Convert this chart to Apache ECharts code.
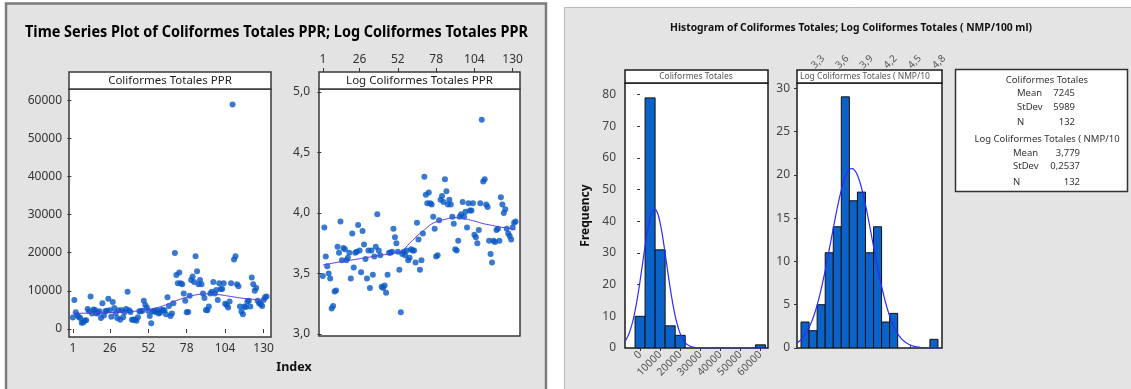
<!DOCTYPE html>
<html>
<head>
<meta charset="utf-8">
<script src="https://cdn.jsdelivr.net/npm/echarts@6.0.0/dist/echarts.min.js"></script>
<style>
  html, body { margin: 0; padding: 0; background: #ffffff; }
  #chart { width: 1131px; height: 389px; }
</style>
</head>
<body>
<div id="chart"></div>
<script>
// Total coliforms (NMP/100 ml), samples 1..132
const coliformes = [
  3020, 7590, 4370, 3630, 3160, 2880, 1620, 1700, 2240, 2290,
  5250, 4680, 8510, 4070, 5130, 5010, 4070, 4270, 4680, 2880,
  6760, 3550, 4680, 4790, 7940, 4900, 3240, 7080, 5500, 4170,
  2880, 4900, 2400, 4900, 3090, 4370, 5250, 9770, 4900, 4470,
  2450, 2400, 2510, 2190, 3090, 4680, 4680, 4790, 7410, 6310,
  5620, 4790, 3390, 1510, 4570, 4790, 4470, 4900, 4070, 4270,
  5010, 4900, 4900, 3890, 8320, 6030, 3390, 4070, 6760, 19950,
  14130, 12020, 14790, 12020, 11750, 9330, 7410, 4370, 4470, 8710,
  12880, 13800, 12300, 19050, 15140, 11750, 12880, 11750, 9330, 8130,
  5010, 4900, 5890, 9330, 9770, 12300, 9330, 10230, 7590, 12020,
  10470, 10470, 12020, 6610, 6310, 5620, 7240, 12020, 58900, 18200,
  19050, 11750, 11220, 5890, 4570, 3890, 5890, 5750, 7240, 7410,
  5890, 13490, 11750, 10000, 10720, 7410, 6760, 6460, 6030, 7590,
  8320, 8510
];
const coliformesLog = coliformes.map(v => Math.log10(v));

// LOWESS smoother read at these sample indices
const lowessIndex = [1, 10, 20, 30, 40, 50, 55, 60, 65, 70, 75, 80, 85, 90, 95, 100, 105, 110, 115, 120, 125, 132];
const lowessRaw = [4100, 4150, 4250, 4350, 4550, 5000, 5300, 5800, 6500, 7300, 8000, 8600, 9000, 9200, 9200, 9000, 8700, 8400, 8100, 7900, 7700, 7500];
const lowessLog = [3.57, 3.59, 3.61, 3.63, 3.65, 3.67, 3.69, 3.75, 3.81, 3.86, 3.91, 3.935, 3.95, 3.962, 3.958, 3.945, 3.93, 3.912, 3.90, 3.887, 3.877, 3.862];

// Axis ticks
const indexTicks = [1, 26, 52, 78, 104, 130];
const rawTicks = [0, 10000, 20000, 30000, 40000, 50000, 60000];
const logTicks = [3.0, 3.5, 4.0, 4.5, 5.0];
const rawFreqTicks = [0, 10, 20, 30, 40, 50, 60, 70, 80];
const logFreqTicks = [0, 5, 10, 15, 20, 25, 30];
const rawHistTicks = [0, 10000, 20000, 30000, 40000, 50000, 60000];
const logHistTicks = [3.3, 3.6, 3.9, 4.2, 4.5, 4.8];

// Histogram bins (centres) and counts
const rawBinWidth = 5000;
const rawBinCenters = [0, 5000, 10000, 15000, 20000, 25000, 30000, 35000, 40000, 45000, 50000, 55000, 60000];
const rawBinCounts = [10, 79, 31, 7, 4, 0, 0, 0, 0, 0, 0, 0, 1];
const logBinWidth = 0.1;
const logBinCenters = [3.2, 3.3, 3.4, 3.5, 3.6, 3.7, 3.8, 3.9, 4.0, 4.1, 4.2, 4.3, 4.4, 4.5, 4.6, 4.7, 4.8];
const logBinCounts = [3, 2, 5, 11, 14, 29, 17, 18, 11, 14, 3, 4, 0, 0, 0, 0, 1];

// Summary statistics
const statNames = ['Mean', 'StDev', 'N'];
const rawStats = [7245, 5989, 132];
const logStats = [3.779, 0.2537, 132];

const FONT = '"Noto Sans", "DejaVu Sans", sans-serif';
const comma = (v, d) => v.toFixed(d).replace('.', ',');
const plain = v => String(Math.round(v));

// Range of the four plotting areas
const idxMin = -1.6, idxMax = 135;
const rawMin = -2100, rawMax = 62950;
const logMin = 2.983, logMax = 5.025;
const hRawMin = -7500, hRawMax = 63750;
const hLogMin = 3.1, hLogMax = 4.9;

function normalCurve(mean, sd, n, width, lo, hi, steps) {
  const pts = [];
  const k = n * width / (sd * Math.sqrt(2 * Math.PI));
  for (let i = 0; i <= steps; i++) {
    const x = lo + (hi - lo) * i / steps;
    const z = (x - mean) / sd;
    pts.push([x, k * Math.exp(-0.5 * z * z)]);
  }
  return pts;
}

function binRenderer(width) {
  return function (params, api) {
    const c = api.value(0), n = api.value(1);
    if (!n) return null;
    const p0 = api.coord([c - width / 2, n]);
    const p1 = api.coord([c + width / 2, 0]);
    return {
      type: 'rect',
      shape: { x: p0[0], y: p0[1], width: p1[0] - p0[0], height: p1[1] - p0[1] },
      style: { fill: '#0b62c8', stroke: '#111111', lineWidth: 1 }
    };
  };
}

// text measured on a canvas so a line can be squeezed to a given span
const measureCtx = document.createElement('canvas').getContext('2d');
function fitScale(text, font, span) {
  measureCtx.font = font;
  const w = measureCtx.measureText(text).width;
  return w > 0 ? span / w : 1;
}

function label(text, x, y, font, fill, align, extra) {
  return Object.assign({
    type: 'text', x: x, y: y, z: 100,
    style: { text: text, font: font, fill: fill, textAlign: align || 'center', textVerticalAlign: 'middle' }
  }, extra || {});
}

const titleLeft = 'Time Series Plot of Coliformes Totales PPR; Log Coliformes Totales PPR';
const titleLeftFont = 'bold 16px ' + FONT;
const titleRight = 'Histogram of Coliformes Totales; Log Coliformes Totales ( NMP/100 ml)';
const titleRightFont = 'bold 11px ' + FONT;

const graphics = [
  { type: 'rect', z: -10, shape: { x: 6, y: 3.5, width: 540, height: 400 },
    style: { fill: '#e3e3e3', stroke: '#7c7c7c', lineWidth: 2.5 } },
  { type: 'rect', z: -10, shape: { x: 564.5, y: 7.5, width: 600, height: 400 },
    style: { fill: '#e4e4e4', stroke: '#b8b8b8', lineWidth: 1 } },
  // panel header strips
  { type: 'rect', z: 90, shape: { x: 69, y: 72, width: 202, height: 17 }, style: { fill: '#ffffff', stroke: '#3a3a3a', lineWidth: 1.5 } },
  { type: 'rect', z: 90, shape: { x: 319, y: 72, width: 201, height: 17 }, style: { fill: '#ffffff', stroke: '#3a3a3a', lineWidth: 1.5 } },
  { type: 'rect', z: 90, shape: { x: 625, y: 70, width: 143, height: 13 }, style: { fill: '#ffffff', stroke: '#1a1a1a', lineWidth: 1.5 } },
  { type: 'rect', z: 90, shape: { x: 797, y: 70, width: 145, height: 13 }, style: { fill: '#ffffff', stroke: '#1a1a1a', lineWidth: 1.5 } },
  label('Coliformes Totales PPR', 170, 80.5, '11.5px ' + FONT, '#222222'),
  label('Log Coliformes Totales PPR', 419.5, 80.5, '11.5px ' + FONT, '#222222'),
  label('Coliformes Totales', 696, 76.5, '8.5px ' + FONT, '#555555'),
  label('Log Coliformes Totales ( NMP/10', 800, 76.5, '8.5px ' + FONT, '#555555', 'left'),
  // titles
  label(titleLeft, 276.5, 32, titleLeftFont, '#000000', 'center',
        { scaleX: fitScale(titleLeft, titleLeftFont, 503) }),
  label(titleRight, 851, 28, titleRightFont, '#111111', 'center',
        { scaleX: fitScale(titleRight, titleRightFont, 362) }),
  label('Index', 294, 367, 'bold 12.5px ' + FONT, '#111111'),
  // statistics box
  { type: 'rect', z: 90, shape: { x: 955.5, y: 69.5, width: 172, height: 122 },
    style: { fill: '#ffffff', stroke: '#333333', lineWidth: 1.5 } },
  label('Coliformes Totales', 1047, 80, '9.5px ' + FONT, '#333333'),
  label('Log Coliformes Totales ( NMP/10', 1047, 139, '9.5px ' + FONT, '#333333')
];
const rawRows = [93, 107, 122];
const logRows = [153, 166, 182];
const rawText = [String(rawStats[0]), String(rawStats[1]), String(rawStats[2])];
const logText = [comma(logStats[0], 3), comma(logStats[1], 4), String(logStats[2])];
statNames.forEach((name, i) => {
  graphics.push(label(name, 1017, rawRows[i], '9.5px ' + FONT, '#333333', 'left'));
  graphics.push(label(rawText[i], 1075, rawRows[i], '9.5px ' + FONT, '#333333', 'right'));
  graphics.push(label(name, 1013, logRows[i], '9.5px ' + FONT, '#333333', 'left'));
  graphics.push(label(logText[i], 1080, logRows[i], '9.5px ' + FONT, '#333333', 'right'));
});

const tickStyle = { lineStyle: { color: '#333333', width: 1 } };
function valueAxis(extra) {
  return Object.assign({
    type: 'value',
    axisLine: { show: false },
    splitLine: { show: false },
    axisTick: Object.assign({ length: 4 }, tickStyle),
    axisLabel: { fontFamily: FONT, fontSize: 12, color: '#333333' }
  }, extra);
}

const option = {
  animation: false,
  backgroundColor: '#ffffff',
  graphic: { elements: graphics },
  grid: [
    { left: 69, top: 89, width: 202, height: 248, show: true, backgroundColor: '#ffffff', borderColor: '#3a3a3a', borderWidth: 1.5, containLabel: false, outerBoundsMode: 'none' },
    { left: 319, top: 89, width: 201, height: 247, show: true, backgroundColor: '#ffffff', borderColor: '#3a3a3a', borderWidth: 1.5, containLabel: false, outerBoundsMode: 'none' },
    { left: 625, top: 83, width: 143, height: 265, show: true, backgroundColor: '#ffffff', borderColor: '#1a1a1a', borderWidth: 1.5, containLabel: false, outerBoundsMode: 'none' },
    { left: 797, top: 83, width: 145, height: 265, show: true, backgroundColor: '#ffffff', borderColor: '#1a1a1a', borderWidth: 1.5, containLabel: false, outerBoundsMode: 'none' }
  ],
  xAxis: [
    valueAxis({ gridIndex: 0, min: idxMin, max: idxMax, position: 'bottom',
      axisTick: Object.assign({ length: 4, customValues: indexTicks }, tickStyle),
      axisLabel: { customValues: indexTicks, fontFamily: FONT, fontSize: 12, color: '#333333', margin: 6, formatter: plain } }),
    valueAxis({ gridIndex: 1, min: idxMin, max: idxMax, position: 'top', offset: 17,
      axisTick: Object.assign({ length: 4, customValues: indexTicks }, tickStyle),
      axisLabel: { customValues: indexTicks, fontFamily: FONT, fontSize: 12, color: '#333333', margin: 6, formatter: plain } }),
    valueAxis({ gridIndex: 2, min: hRawMin, max: hRawMax, position: 'bottom',
      axisTick: Object.assign({ length: 3, customValues: rawHistTicks }, tickStyle),
      axisLabel: { customValues: rawHistTicks, rotate: 45, fontFamily: FONT, fontSize: 10.5, color: '#555555', margin: 5, formatter: plain } }),
    valueAxis({ gridIndex: 3, min: hLogMin, max: hLogMax, position: 'top', offset: 13,
      axisTick: Object.assign({ length: 3, customValues: logHistTicks }, tickStyle),
      axisLabel: { customValues: logHistTicks, rotate: 45, fontFamily: FONT, fontSize: 10, color: '#555555', margin: 3,
        formatter: v => comma(v, 1) } })
  ],
  yAxis: [
    valueAxis({ gridIndex: 0, min: rawMin, max: rawMax,
      axisTick: Object.assign({ length: 4, customValues: rawTicks }, tickStyle),
      axisLabel: { customValues: rawTicks, fontFamily: FONT, fontSize: 12, color: '#333333', margin: 7, formatter: plain } }),
    valueAxis({ gridIndex: 1, min: logMin, max: logMax,
      axisTick: Object.assign({ length: 4, customValues: logTicks }, tickStyle),
      axisLabel: { customValues: logTicks, fontFamily: FONT, fontSize: 12, color: '#333333', margin: 9,
        formatter: v => comma(v, 1) } }),
    valueAxis({ gridIndex: 2, min: 0, max: 83.7,
      name: 'Frequency', nameLocation: 'middle', nameGap: 33, nameRotate: 90,
      nameTextStyle: { fontFamily: FONT, fontSize: 12, fontWeight: 'bold', color: '#111111' },
      axisTick: Object.assign({ length: 3, customValues: rawFreqTicks }, tickStyle),
      axisLabel: { customValues: rawFreqTicks, fontFamily: FONT, fontSize: 12, color: '#444444', margin: 9, formatter: plain } }),
    valueAxis({ gridIndex: 3, min: 0, max: 30.6,
      axisTick: Object.assign({ length: 3, customValues: logFreqTicks }, tickStyle),
      axisLabel: { customValues: logFreqTicks, fontFamily: FONT, fontSize: 12, color: '#444444', margin: 7, formatter: plain } })
  ],
  series: [
    { type: 'scatter', xAxisIndex: 0, yAxisIndex: 0, symbolSize: 6,
      itemStyle: { color: '#0758c4' }, data: coliformes.map((v, i) => [i + 1, v]) },
    { type: 'line', xAxisIndex: 0, yAxisIndex: 0, smooth: 0.4, showSymbol: false, z: 3,
      lineStyle: { color: '#5a3fe6', width: 1 }, data: lowessIndex.map((x, i) => [x, lowessRaw[i]]) },
    { type: 'scatter', xAxisIndex: 1, yAxisIndex: 1, symbolSize: 6,
      itemStyle: { color: '#0758c4' }, data: coliformesLog.map((v, i) => [i + 1, v]) },
    { type: 'line', xAxisIndex: 1, yAxisIndex: 1, smooth: 0.4, showSymbol: false, z: 3,
      lineStyle: { color: '#5a3fe6', width: 1 }, data: lowessIndex.map((x, i) => [x, lowessLog[i]]) },
    { type: 'custom', xAxisIndex: 2, yAxisIndex: 2, renderItem: binRenderer(rawBinWidth),
      clip: true, data: rawBinCenters.map((c, i) => [c, rawBinCounts[i]]) },
    { type: 'line', xAxisIndex: 2, yAxisIndex: 2, showSymbol: false, smooth: false, z: 4, clip: true,
      lineStyle: { color: '#2b2bff', width: 1.2 },
      data: normalCurve(rawStats[0], rawStats[1], rawStats[2], rawBinWidth, hRawMin, hRawMax, 300) },
    { type: 'custom', xAxisIndex: 3, yAxisIndex: 3, renderItem: binRenderer(logBinWidth),
      clip: true, data: logBinCenters.map((c, i) => [c, logBinCounts[i]]) },
    { type: 'line', xAxisIndex: 3, yAxisIndex: 3, showSymbol: false, smooth: false, z: 4, clip: true,
      lineStyle: { color: '#2b2bff', width: 1.2 },
      data: normalCurve(logStats[0], logStats[1], logStats[2], logBinWidth, hLogMin, hLogMax, 300) }
  ]
};

const chart = echarts.init(document.getElementById('chart'));
chart.setOption(option);
</script>
</body>
</html>
